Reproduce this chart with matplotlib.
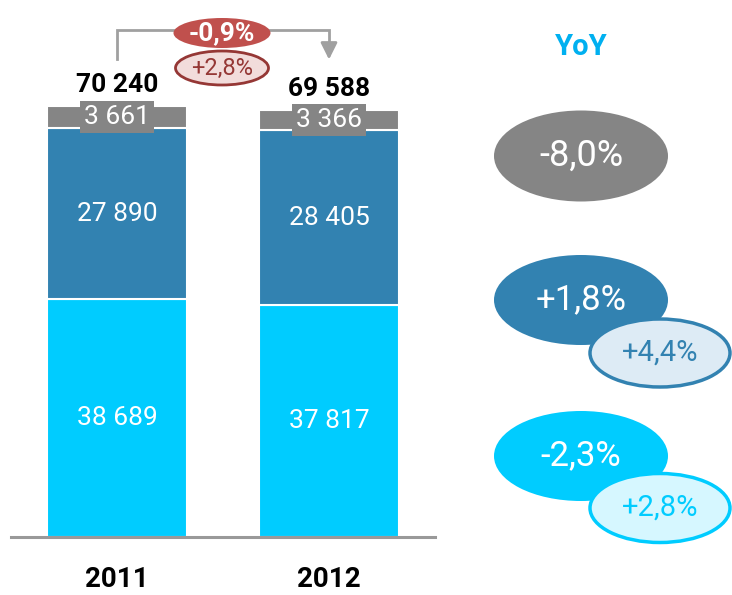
import matplotlib.pyplot as plt
from matplotlib.patches import Ellipse

plt.rcParams['font.family'] = ['Roboto', 'DejaVu Sans']

# datos
anios = ['2011', '2012']
serie_cian = [38689, 37817]
serie_azul = [27890, 28405]
serie_gris = [3661, 3366]
totales = ['70 240', '69 588']
var_total = '-0,9%'
var_total_2 = '+2,8%'
var_gris = '-8,0%'
var_azul = '+1,8%'
var_azul_2 = '+4,4%'
var_cian = '-2,3%'
var_cian_2 = '+2,8%'

# colores
c_cian = '#00CCFF'
c_azul = '#3282B1'
c_gris = '#858585'
c_rojo = '#C0504D'
c_rojo_osc = '#953735'


def fmt(v):
    return f'{v:,}'.replace(',', ' ')


W, H = 732, 595
fig = plt.figure(figsize=(W / 100, H / 100), dpi=100)

# ejes de las barras (base en y=537 px, escala ~0.00614 px por unidad)
ax = fig.add_axes([11 / W, 58 / H, 424 / W, 537 / H])
ax.set_xlim(-0.5, 1.5)
ax.set_ylim(0, 87460)

x = range(len(anios))
ancho = 0.66
ax.bar(x, serie_cian, ancho, color=c_cian, edgecolor='white', linewidth=1.5)
ax.bar(x, serie_azul, ancho, bottom=serie_cian, color=c_azul,
       edgecolor='white', linewidth=1.5)
base_gris = [a + b for a, b in zip(serie_cian, serie_azul)]
ax.bar(x, serie_gris, ancho, bottom=base_gris, color=c_gris,
       edgecolor='white', linewidth=1.5)

for i in x:
    ax.text(i, serie_cian[i] / 2, fmt(serie_cian[i]), ha='center',
            va='center', color='white', fontsize=19)
    ax.text(i, serie_cian[i] + serie_azul[i] / 2, fmt(serie_azul[i]),
            ha='center', va='center', color='white', fontsize=19)
    ax.text(i, base_gris[i] + serie_gris[i] / 2, fmt(serie_gris[i]),
            ha='center', va='center', color='white', fontsize=19,
            bbox=dict(boxstyle='square,pad=0.16', facecolor=c_gris,
                      edgecolor='none'))
    ax.annotate(totales[i], (i, base_gris[i] + serie_gris[i]),
                xytext=(0, 10), textcoords='offset points', ha='center',
                va='baseline', fontsize=19, fontweight='bold', color='black')

for s in ['top', 'left', 'right']:
    ax.spines[s].set_visible(False)
ax.spines['bottom'].set_color('#999999')
ax.spines['bottom'].set_linewidth(2.2)
ax.set_yticks([])
ax.set_xticks(list(x))
ax.set_xticklabels(anios, fontsize=20, fontweight='bold')
ax.tick_params(axis='x', length=0, pad=21)

# conector entre totales
tr = ax.get_xaxis_transform()
ax.plot([0, 0, 1, 1], [0.890, 0.944, 0.944, 0.912], color='#A0A0A0',
        linewidth=2, transform=tr, clip_on=False, solid_joinstyle='miter')
ax.annotate('', xy=(1, 0.884), xytext=(1, 0.915), xycoords=tr,
            textcoords=tr,
            arrowprops=dict(arrowstyle='-|>,head_width=0.5,head_length=1.0',
                            color='#A0A0A0', linewidth=2))

# capa superior en píxeles para las elipses
ov = fig.add_axes([0, 0, 1, 1])
ov.set_xlim(0, W)
ov.set_ylim(H, 0)
ov.axis('off')


def elipse(cx, cy, w, h, fc, ec='none', lw=0, texto='', tc='white', fs=20,
           peso='normal'):
    ov.add_patch(Ellipse((cx, cy), w, h, facecolor=fc, edgecolor=ec,
                         linewidth=lw))
    ov.text(cx, cy, texto, ha='center', va='center', color=tc, fontsize=fs,
            fontweight=peso)


elipse(222, 33, 97, 30, c_rojo, texto=var_total, fs=19, peso='bold')
elipse(222, 68, 93, 34, '#F2DCDB', ec=c_rojo_osc, lw=2, texto=var_total_2,
       tc=c_rojo_osc, fs=17)

ov.text(581, 47, 'YoY', ha='center', va='center', color='#00B0F0',
        fontsize=21, fontweight='bold')

elipse(581, 156, 174, 91, c_gris, texto=var_gris, fs=26)
elipse(581, 300, 174, 90, c_azul, texto=var_azul, fs=25)
elipse(660, 353, 140, 68, '#DDEBF5', ec=c_azul, lw=2.5, texto=var_azul_2,
       tc=c_azul, fs=21)
elipse(581, 456, 174, 90, c_cian, texto=var_cian, fs=25)
elipse(660, 508, 140, 69, '#D6F7FF', ec=c_cian, lw=2.5, texto=var_cian_2,
       tc=c_cian, fs=21)

fig.savefig('out.png', dpi=100)
